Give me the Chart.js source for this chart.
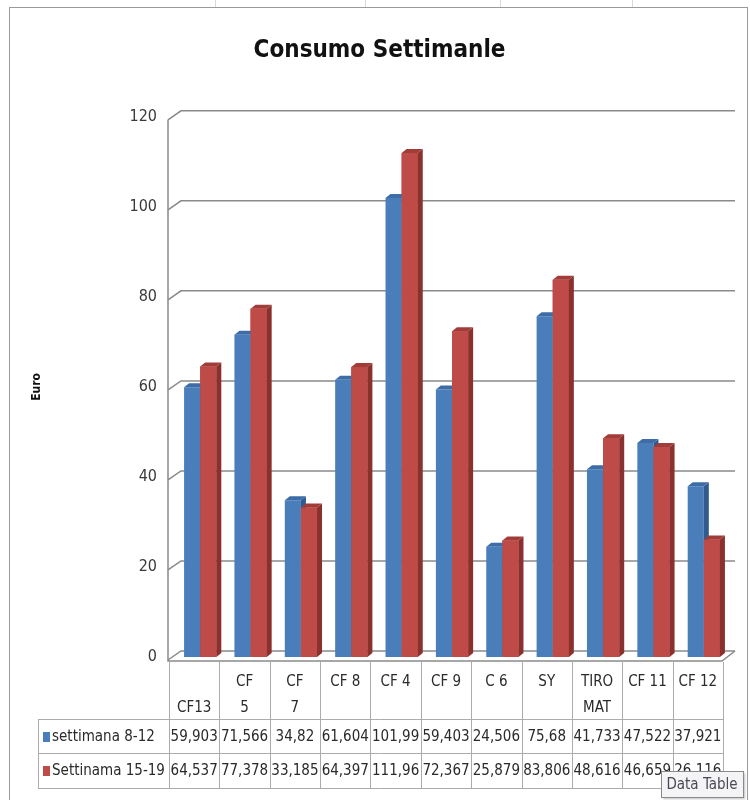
<!DOCTYPE html>
<html lang="it">
<head>
<meta charset="UTF-8">
<title>Consumo Settimanle</title>
<style>
  html, body { margin: 0; padding: 0; background: #fff; }
  #wrap { width: 750px; height: 800px; }
</style>
</head>
<body>
<div id="wrap"><canvas id="consumoChart" width="750" height="800"></canvas></div>
<script src="https://cdn.jsdelivr.net/npm/chart.js"></script>
<script>
const categories = [['', 'CF13'], ['CF', '5'], ['CF', '7'], ['CF 8'], ['CF 4'], ['CF 9'], ['C 6'], ['SY'], ['TIRO', 'MAT'], ['CF 11'], ['CF 12']];
const seriesNames = ['settimana 8-12', 'Settinama 15-19'];
const settimana812 = [59.903, 71.566, 34.82, 61.604, 101.99, 59.403, 24.506, 75.68, 41.733, 47.522, 37.921];
const settimana1519 = [64.537, 77.378, 33.185, 64.397, 111.96, 72.367, 25.879, 83.806, 48.616, 46.659, 26.116];
const yTicks = [0, 20, 40, 60, 80, 100, 120];

const FONT = '"Liberation Sans Narrow", "DejaVu Sans Condensed", "Liberation Sans", sans-serif';
const frontColors = ['#4a7ebb', '#be4b48'];
const sideColors = ['#2f5b8e', '#8a302d'];
const topColors = ['#3d6ca6', '#a23c39'];
const DX = 5, DY = 4;
const TABLE_SHIFT = -6; // table sits in front of the 3D plot, a bit to the left

function fmt(v) { return String(v).replace('.', ','); }

function poly(ctx, pts, color) {
    ctx.beginPath();
    ctx.moveTo(pts[0][0], pts[0][1]);
    for (let i = 1; i < pts.length; i++) ctx.lineTo(pts[i][0], pts[i][1]);
    ctx.closePath();
    ctx.fillStyle = color;
    ctx.fill();
}

// white sheet + chart frame
const frame = {
    id: 'frame',
    beforeDraw(chart) {
        const ctx = chart.ctx;
        ctx.save();
        ctx.fillStyle = '#fff';
        ctx.fillRect(0, 0, chart.width, chart.height);
        ctx.strokeStyle = '#d9d9d9';
        ctx.lineWidth = 1;
        [215, 365, 500, 632].forEach(x => {
            ctx.beginPath(); ctx.moveTo(x + 0.5, 0); ctx.lineTo(x + 0.5, 7); ctx.stroke();
        });
        ctx.strokeStyle = '#9a9a9a';
        ctx.strokeRect(9.5, 7.5, 738, 800);
        ctx.restore();
    }
};

// back wall gridlines + floor, fake 3D like Excel
const walls = {
    id: 'walls',
    beforeDatasetsDraw(chart) {
        const ctx = chart.ctx;
        const ys = chart.scales.y;
        const { left, right } = chart.chartArea;
        ctx.save();
        ctx.strokeStyle = '#8a8a8a';
        ctx.lineWidth = 1.5;
        yTicks.forEach(v => {
            const py = ys.getPixelForValue(v);
            ctx.beginPath();
            ctx.moveTo(left - 7, py + 3);
            ctx.lineTo(left + 6, py - 6);
            ctx.lineTo(right + 6, py - 6);
            ctx.stroke();
        });
        const p0 = ys.getPixelForValue(0);
        const pMax = ys.getPixelForValue(120);
        ctx.beginPath();
        ctx.moveTo(left - 7, pMax + 3);
        ctx.lineTo(left - 7, p0 + 4);
        ctx.lineTo(right - 7, p0 + 4);
        ctx.lineTo(right + 6, p0 - 6);
        ctx.stroke();
        ctx.restore();
    }
};

// side + top faces; red front is repainted so it sits in front of the blue side
const bar3d = {
    id: 'bar3d',
    afterDatasetsDraw(chart) {
        const ctx = chart.ctx;
        ctx.save();
        [0, 1].forEach(i => {
            chart.getDatasetMeta(i).data.forEach(bar => {
                const { x, y, base, width } = bar.getProps(['x', 'y', 'base', 'width'], true);
                const l = x - width / 2, r = x + width / 2;
                if (i === 1) poly(ctx, [[l, y], [r, y], [r, base], [l, base]], frontColors[i]);
                poly(ctx, [[r, y], [r + DX, y - DY], [r + DX, base - DY], [r, base]], sideColors[i]);
                poly(ctx, [[l, y], [l + DX, y - DY], [r + DX, y - DY], [r, y]], topColors[i]);
            });
        });
        ctx.restore();
    }
};

// data table under the plot
const dataTable = {
    id: 'dataTable',
    afterDraw(chart) {
        const ctx = chart.ctx;
        const xs = chart.scales.x;
        const { left, right, bottom } = chart.chartArea;
        const n = categories.length;
        const colW = (right - left) / n;
        const tLeft = 38;
        const tRight = right + TABLE_SHIFT;
        const yHead = bottom + 5, yRow1 = 719, yRow2 = 753, yEnd = 788;
        const colX = k => xs.getPixelForValue(k) + TABLE_SHIFT;
        ctx.save();
        ctx.strokeStyle = '#ababab';
        ctx.lineWidth = 1;
        for (let k = 0; k <= n; k++) {
            const lx = Math.round(left + TABLE_SHIFT + k * colW) + 0.5;
            ctx.beginPath(); ctx.moveTo(lx, yHead); ctx.lineTo(lx, yEnd); ctx.stroke();
        }
        [yRow1, yRow2, yEnd].forEach(y => {
            ctx.beginPath(); ctx.moveTo(tLeft, y + 0.5); ctx.lineTo(tRight, y + 0.5); ctx.stroke();
        });
        ctx.beginPath(); ctx.moveTo(tLeft + 0.5, yRow1); ctx.lineTo(tLeft + 0.5, yEnd); ctx.stroke();

        ctx.fillStyle = '#2a2a2a';
        ctx.font = '15px ' + FONT;
        ctx.textAlign = 'center';
        ctx.textBaseline = 'middle';
        categories.forEach((lab, k) => {
            lab.forEach((line, j) => ctx.fillText(line, colX(k), 682 + j * 26));
        });
        [settimana812, settimana1519].forEach((vals, r) => {
            const cy = r === 0 ? 737 : 771;
            vals.forEach((v, k) => ctx.fillText(fmt(v), colX(k), cy));
            ctx.fillStyle = frontColors[r];
            ctx.fillRect(43, cy - 5, 7, 10);
            ctx.fillStyle = '#2a2a2a';
            ctx.textAlign = 'left';
            ctx.fillText(seriesNames[r], 52, cy);
            ctx.textAlign = 'center';
        });

        // hover label left on the screenshot
        ctx.shadowColor = 'rgba(0,0,0,0.25)';
        ctx.shadowOffsetX = 2;
        ctx.shadowOffsetY = 2;
        ctx.shadowBlur = 2;
        ctx.fillStyle = '#f4f4f6';
        ctx.fillRect(661, 771, 82, 26);
        ctx.shadowColor = 'transparent';
        ctx.strokeStyle = '#8a8a8a';
        ctx.strokeRect(661.5, 771.5, 82, 26);
        ctx.fillStyle = '#4a4a55';
        ctx.font = '15px ' + FONT;
        ctx.fillText('Data Table', 702, 785);
        ctx.restore();
    }
};

new Chart(document.getElementById('consumoChart'), {
    type: 'bar',
    data: {
        labels: categories,
        datasets: [
            { label: seriesNames[0], data: settimana812, backgroundColor: frontColors[0],
              categoryPercentage: 0.64, barPercentage: 1.0, borderWidth: 0 },
            { label: seriesNames[1], data: settimana1519, backgroundColor: frontColors[1],
              categoryPercentage: 0.64, barPercentage: 1.0, borderWidth: 0 }
        ]
    },
    options: {
        responsive: false,
        animation: false,
        layout: { padding: { left: 30, right: 21, bottom: 143, top: 0 } },
        plugins: {
            legend: { display: false },
            tooltip: { enabled: false },
            title: {
                display: true,
                text: 'Consumo Settimanle',
                color: '#111',
                font: { family: FONT, size: 24, weight: 'bold' },
                padding: { top: 36, bottom: 52 }
            }
        },
        scales: {
            x: { display: false },
            y: {
                min: 0,
                max: 120,
                afterBuildTicks: s => { s.ticks = yTicks.map(v => ({ value: v })); },
                afterFit: s => { s.width = 145; },
                grid: { display: false, drawTicks: false },
                border: { display: false },
                ticks: { padding: 18, color: '#3a3a3a', font: { family: FONT, size: 16 } },
                title: { display: true, text: 'Euro', color: '#111', padding: 0, font: { family: FONT, size: 12, weight: 'bold' } }
            }
        }
    },
    plugins: [frame, walls, bar3d, dataTable]
});
</script>
</body>
</html>
